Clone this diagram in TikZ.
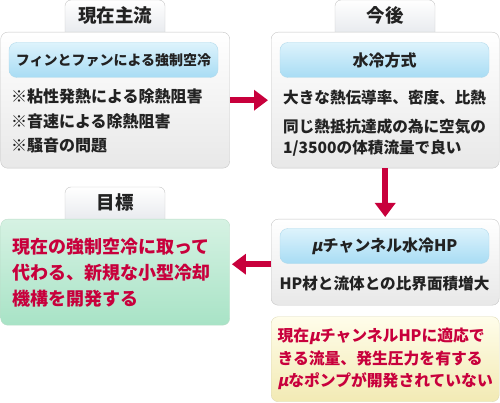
\documentclass[tikz,border=0pt]{standalone}
\usepackage{fontspec}
\setmainfont{Noto Sans CJK JP}
\newfontfamily\slantjp{Noto Sans CJK JP}[FakeSlant=0.2]
\usepackage{xcolor}
\usetikzlibrary{arrows.meta, positioning}
\definecolor{myred}{HTML}{C8003C}
\definecolor{myedge}{HTML}{C6C6C6}
\definecolor{mytab}{HTML}{E1E4E9}
\definecolor{myboxbot}{HTML}{E8E8E8}
\definecolor{mybluetop}{HTML}{DDF3FC}
\definecolor{mybluebot}{HTML}{A8DCF4}
\definecolor{mybluedge}{HTML}{B2DAEC}
\definecolor{mygreentop}{HTML}{D6F2E3}
\definecolor{mygreenbot}{HTML}{A8E3C6}
\definecolor{mygreenedge}{HTML}{BCDDC9}
\definecolor{myyellowtop}{HTML}{FFFDEA}
\definecolor{myyellowbot}{HTML}{F2EAB4}
\definecolor{myyellowedge}{HTML}{DEDAB8}
\definecolor{mytext}{HTML}{222222}
\newcommand{\myu}{{\slantjp μ}}

\begin{document}
\begin{tikzpicture}[x=1pt, y=-1pt,
    tab/.style={rectangle, draw=myedge, rounded corners=6pt, top color=white, bottom color=mytab, minimum width=100pt, inner ysep=4pt, text height=19pt, text depth=16pt, anchor=base, text=mytext, font=\fontsize{18.5}{20}\selectfont\bfseries},
    box/.style={rectangle, draw=myedge, rounded corners=7pt, top color=white, bottom color=myboxbot, anchor=north west, minimum width=228pt},
    head/.style={rectangle, draw=mybluedge, rounded corners=8pt, top color=mybluetop, bottom color=mybluebot, minimum width=209pt, minimum height=35pt, text=mytext, font=\fontsize{16}{18}\selectfont\bfseries},
    body/.style={align=left, inner sep=0pt, text=mytext, font=\fontsize{15.6}{24}\selectfont\bfseries},
    arrow/.style={-{Triangle[width=20pt, length=14pt]}, line width=6pt, myred}]
  \useasboundingbox (0,0) rectangle (500,403);

  % 現在主流
  \node[tab] (nowtab) at (115,23) {現在主流};
  \node[box, minimum width=229pt, minimum height=136pt] (nowbox) at (0.5,32) {};
  \node[head, font=\fontsize{14}{18}\selectfont\bfseries] (nowhead) at (113.5,60) {フィンとファンによる強制空冷};
  \node[body, anchor=west, font=\fontsize{16}{24.5}\selectfont\bfseries] (nowlist) at (11,121) {※粘性発熱による除熱阻害\\※音速による除熱阻害\\※騒音の問題};

  % 今後
  \node[tab] (nexttab) at (385,23) {今後};
  \node[box, minimum height=136pt] (nextbox) at (271,32) {};
  \node[head] (nexthead) at (384.5,60) {水冷方式};
  \node[body, anchor=west] (nextline) at (283,98) {大きな熱伝導率、密度、比熱};
  \node[body, anchor=west, font=\fontsize{15.6}{21.5}\selectfont\bfseries] (nextnote) at (283,137.5) {同じ熱抵抗達成の為に空気の\\1/3500の体積流量で良い};

  % μチャンネル
  \node[box, minimum height=86pt] (hpbox) at (271,219) {};
  \node[head] (hphead) at (384.5,246) {\myu チャンネル水冷HP};
  \node[body] (hpline) at (384.5,284) {HP材と流体との比界面積増大};

  \node[box, draw=myyellowedge, top color=myyellowtop, bottom color=myyellowbot, minimum height=85pt, align=left, text=myred, font=\fontsize{15.8}{22.5}\selectfont\bfseries] (pumpbox) at (271,316.5) {現在\myu チャンネルHPに適応で\\きる流量、発生圧力を有する\\\myu なポンプが開発されていない};

  % 目標
  \node[tab] (goaltab) at (115,210) {目標};
  \node[box, draw=mygreenedge, top color=mygreentop, bottom color=mygreenbot, minimum width=229pt, minimum height=106pt, text width=205pt, inner xsep=12pt, align=left, text=myred, font=\fontsize{18}{26}\selectfont\bfseries] (goalbox) at (0.5,219) {現在の強制空冷に取って\\代わる、新規な小型冷却\\機構を開発する};

  \draw[arrow, shorten >=3pt] (nowbox.east) -- (nextbox.west);
  \draw[arrow, shorten >=2pt] (nextbox.south) -- (hpbox.north);
  \draw[arrow, shorten >=2pt] ([yshift=-2pt]hpbox.west) -- ([yshift=-2pt]hpbox.west -| goalbox.east);
\end{tikzpicture}
\end{document}
